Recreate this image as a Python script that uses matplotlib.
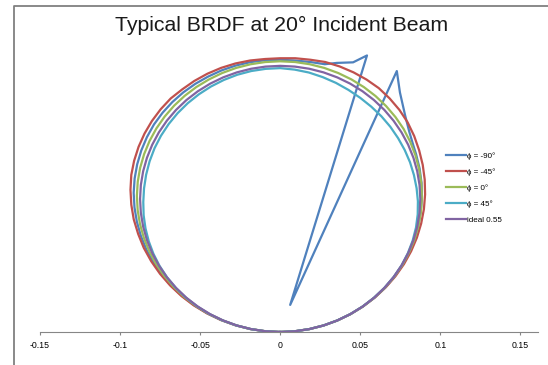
import numpy as np
import matplotlib
matplotlib.use("Agg")
import matplotlib.pyplot as plt
from matplotlib.lines import Line2D

plt.rcParams['font.family'] = ['Liberation Sans', 'DejaVu Sans']

# scatter angle from the normal (deg), one reading every 3 deg
angles = list(range(-90, 91, 3))

# BRDF (1/sr) for each azimuth
brdf_m45 = [0.1800, 0.1805, 0.1810, 0.1815, 0.1825, 0.1830, 0.1840, 0.1845, 0.1850, 0.1855,
            0.1860, 0.1865, 0.1865, 0.1870, 0.1870, 0.1870, 0.1870, 0.1865, 0.1860, 0.1855,
            0.1850, 0.1845, 0.1840, 0.1830, 0.1825, 0.1820, 0.1815, 0.1810, 0.1805, 0.1800,
            0.1800, 0.1805, 0.1810, 0.1820, 0.1825, 0.1830, 0.1835, 0.1840, 0.1840, 0.1840,
            0.1838, 0.1832, 0.1825, 0.1820, 0.1815, 0.1810, 0.1805, 0.1800, 0.1795, 0.1790,
            0.1785, 0.1780, 0.1775, 0.1770, 0.1765, 0.1760, 0.1760, 0.1760, 0.1760, 0.1760,
            0.1760]
brdf_0 = [0.1760, 0.1763, 0.1767, 0.1770, 0.1775, 0.1780, 0.1783, 0.1786, 0.1788, 0.1790,
          0.1790, 0.1790, 0.1790, 0.1790, 0.1790, 0.1790, 0.1789, 0.1788, 0.1787, 0.1786,
          0.1785, 0.1784, 0.1783, 0.1782, 0.1781, 0.1780, 0.1780, 0.1780, 0.1780, 0.1780,
          0.1780, 0.1780, 0.1780, 0.1780, 0.1780, 0.1780, 0.1780, 0.1780, 0.1780, 0.1780,
          0.1780, 0.1778, 0.1776, 0.1774, 0.1772, 0.1770, 0.1768, 0.1766, 0.1764, 0.1762,
          0.1760, 0.1759, 0.1758, 0.1757, 0.1756, 0.1755, 0.1754, 0.1753, 0.1752, 0.1751,
          0.1750]
brdf_45 = [0.1780, 0.1780, 0.1780, 0.1778, 0.1775, 0.1770, 0.1765, 0.1760, 0.1755, 0.1748,
           0.1740, 0.1733, 0.1726, 0.1720, 0.1715, 0.1710, 0.1710, 0.1712, 0.1715, 0.1718,
           0.1720, 0.1722, 0.1724, 0.1726, 0.1728, 0.1730, 0.1732, 0.1734, 0.1735, 0.1735,
           0.1735, 0.1730, 0.1725, 0.1718, 0.1712, 0.1706, 0.1702, 0.1700, 0.1700, 0.1700,
           0.1700, 0.1702, 0.1705, 0.1708, 0.1713, 0.1720, 0.1727, 0.1734, 0.1740, 0.1745,
           0.1750, 0.1750, 0.1750, 0.1750, 0.1750, 0.1750, 0.1750, 0.1750, 0.1750, 0.1750,
           0.1750]
brdf_ideal = [0.175] * len(angles)  # 0.55 / pi

# phi = -90 has the retro-reflection peak and the dip where the beam is blocked
angles_m90 = (list(range(-90, 10, 3))
              + [11.3, 14.4, 16.6, 19.3, 23.0, 25.4, 28.8, 31.5, 34.2]
              + list(range(36, 91, 3)))
brdf_m90 = [0.1780, 0.1786, 0.1792, 0.1798, 0.1804, 0.1810, 0.1815, 0.1820, 0.1824, 0.1827,
            0.1830, 0.1830, 0.1830, 0.1830, 0.1830, 0.1830, 0.1828, 0.1826, 0.1824, 0.1822,
            0.1820, 0.1816, 0.1812, 0.1808, 0.1804, 0.1800, 0.1798, 0.1796, 0.1794, 0.1792,
            0.1790, 0.1790, 0.1795, 0.1805,
            0.1840, 0.1890, 0.1980, 0.0200, 0.2025, 0.1930, 0.1850, 0.1810, 0.1790,
            0.1785, 0.1780, 0.1775, 0.1770, 0.1765, 0.1763, 0.1762, 0.1761, 0.1760, 0.1760,
            0.1760, 0.1758, 0.1756, 0.1754, 0.1752, 0.1750, 0.1750, 0.1750, 0.1750]

series = [
    ("ϕ = -90°", angles_m90, brdf_m90, "#4F81BD"),
    ("ϕ = -45°", angles, brdf_m45, "#C0504D"),
    ("ϕ = 0°", angles, brdf_0, "#9BBB59"),
    ("ϕ = 45°", angles, brdf_45, "#4BACC6"),
    ("ideal 0.55", angles, brdf_ideal, "#8064A2"),
]

xticks = [-0.15, -0.1, -0.05, 0, 0.05, 0.1, 0.15]
xticklabels = ["-0.15", "-0.1", "-0.05", "0", "0.05", "0.1", "0.15"]

W, H = 548, 365
fig = plt.figure(figsize=(W / 100, H / 100), dpi=100)

# plot area in pixels: x from 40 to 538, y from 40 (top) to 332 (axis)
ax = fig.add_axes([40 / W, (H - 332) / H, 498 / W, 292 / H])

# polar plot drawn as x-y: radius = BRDF * cos(theta)
for label, th, f, col in series:
    t = np.radians(th)
    r = np.array(f) * np.cos(t)
    ax.plot(r * np.sin(t), r * np.cos(t), color=col, lw=1.6, label=label,
            solid_joinstyle='round')

ax.set_xlim(-0.15, 0.161)
ax.set_ylim(0, 0.192)
ax.set_xticks(xticks)
ax.set_xticklabels(xticklabels, fontsize=6.3)
ax.tick_params(axis='x', direction='out', length=2.5, width=0.8,
               color='#868686', pad=4)
ax.yaxis.set_visible(False)
for s in ['left', 'right', 'top']:
    ax.spines[s].set_visible(False)
ax.spines['bottom'].set_color('#868686')
ax.spines['bottom'].set_linewidth(0.8)
ax.patch.set_visible(False)

fig.text(282 / W, 1 - 25 / H, "Typical BRDF at 20° Incident Beam",
         fontsize=15.3, color='#1a1a1a', ha='center', va='center')

leg = fig.legend(loc='upper left', bbox_to_anchor=(446 / W, 1 - 152 / H),
                 frameon=False, fontsize=5.8, handlelength=2.5,
                 handletextpad=0.1, labelspacing=1.05, borderpad=0,
                 borderaxespad=0)

# chart frame (cut off at right and bottom)
fig.add_artist(Line2D([14 / W, 14 / W, 1.0], [0.0, 1 - 6 / H, 1 - 6 / H],
                      transform=fig.transFigure, color='#808080', lw=1.3))

fig.savefig("out.png", dpi=100)
